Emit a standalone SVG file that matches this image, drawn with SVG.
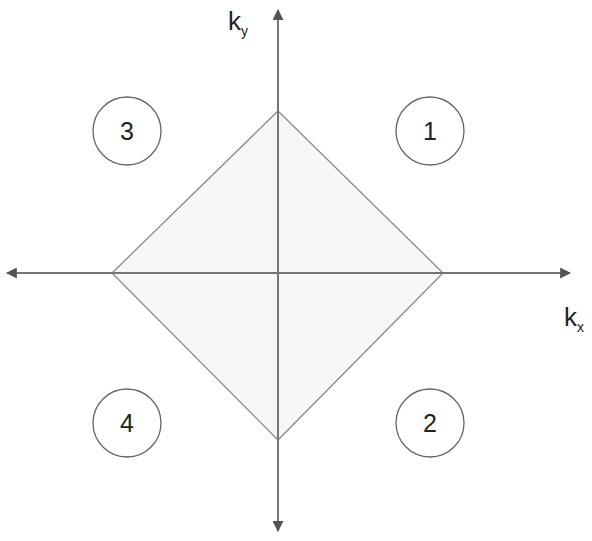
<svg xmlns="http://www.w3.org/2000/svg" width="592" height="541" viewBox="0 0 592 541">
<style>
.axis{stroke:#757575;stroke-width:2;fill:none}
.dia{fill:#f7f7f7;stroke:#8a8a8a;stroke-width:1.3}
.c{fill:#fff;stroke:#666;stroke-width:1.3}
.t{font-family:"Liberation Sans",Arial,sans-serif;fill:#222;text-anchor:middle}
.s{text-anchor:start}
</style>
<defs>
<marker id="ah" viewBox="0 0 10 10" refX="9" refY="5" markerWidth="11" markerHeight="11" markerUnits="userSpaceOnUse" orient="auto">
<path d="M0,0 L10,5 L0,10 Z" fill="#555"/>
</marker>
</defs>
<g id="diamond"><path class="dia" d="M278,111 L443,273 L278,440 L112,273 Z"/></g>
<g id="connectors">
<line class="axis" x1="278" y1="273" x2="278" y2="10" marker-end="url(#ah)"/>
<line class="axis" x1="278" y1="273" x2="278" y2="531" marker-end="url(#ah)"/>
<line class="axis" x1="278" y1="273" x2="570" y2="273" marker-end="url(#ah)"/>
<line class="axis" x1="278" y1="273" x2="7" y2="273" marker-end="url(#ah)"/>
</g>
<g id="n1"><circle class="c" cx="430" cy="131" r="34"/><text class="t" x="430" y="140" font-size="25">1</text></g>
<g id="n2"><circle class="c" cx="430" cy="423" r="34"/><text class="t" x="430" y="432" font-size="25">2</text></g>
<g id="n3"><circle class="c" cx="127" cy="131" r="34"/><text class="t" x="127" y="140" font-size="25">3</text></g>
<g id="n4"><circle class="c" cx="127" cy="423" r="34"/><text class="t" x="127" y="432" font-size="25">4</text></g>
<g id="ky"><text class="t s" x="228" y="30" font-size="26">k<tspan font-size="14" dy="6">y</tspan></text></g>
<g id="kx"><text class="t s" x="564" y="326" font-size="26">k<tspan font-size="14" dy="6">x</tspan></text></g>
</svg>
